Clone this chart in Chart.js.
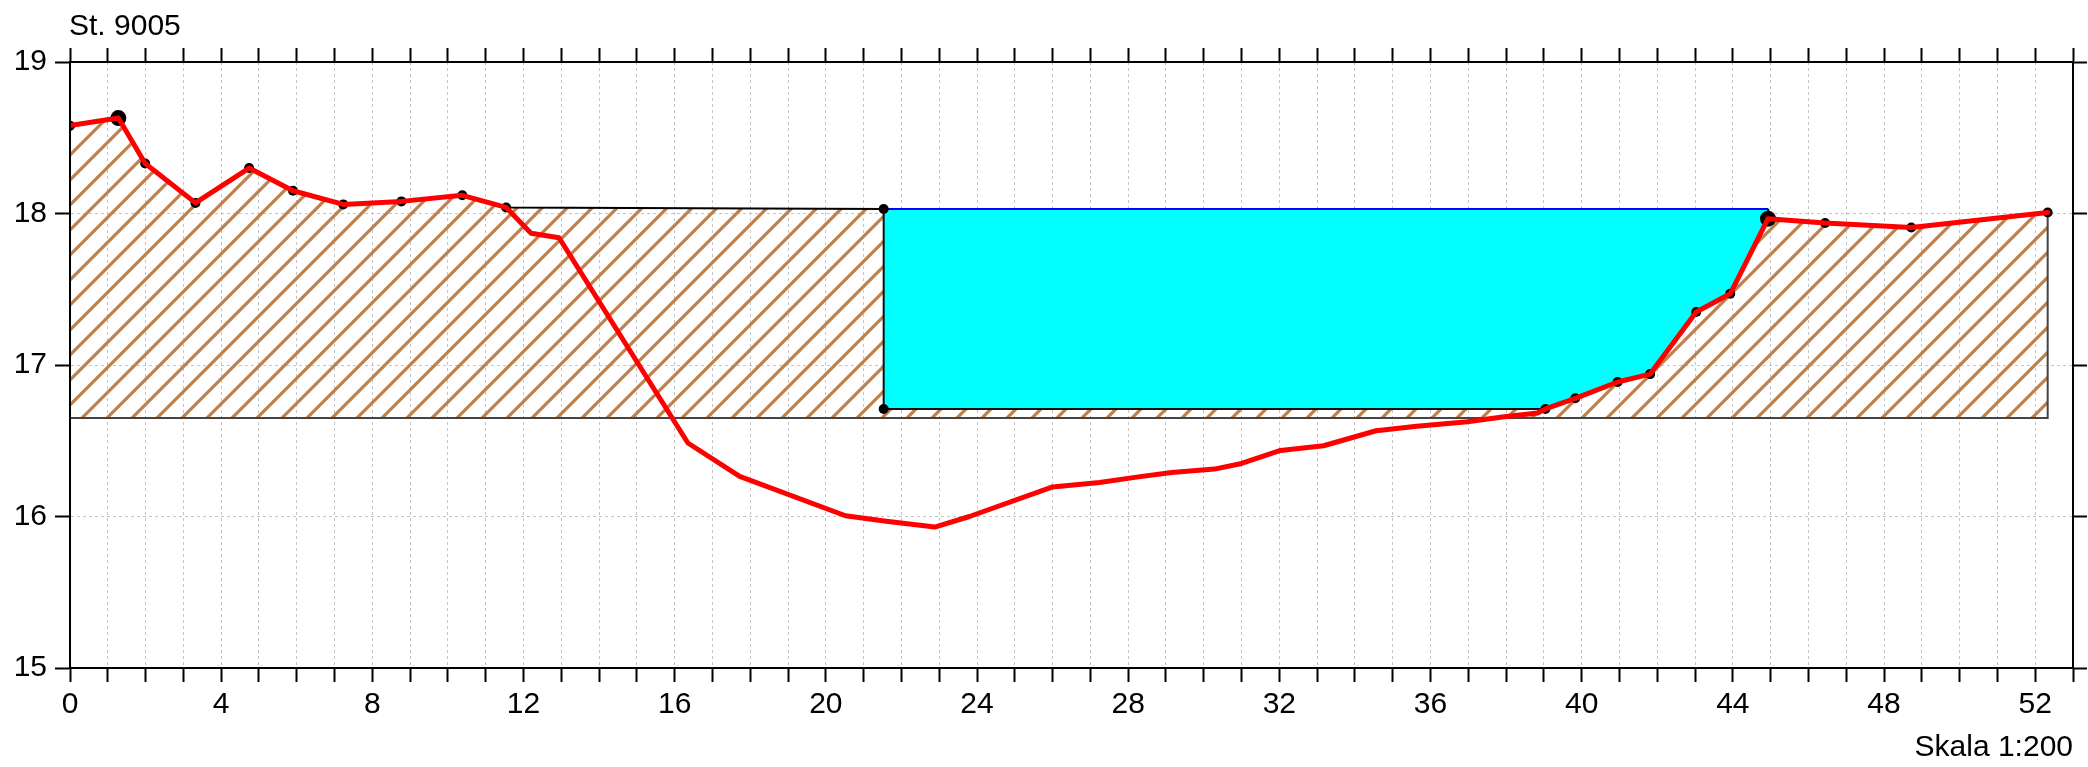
<!DOCTYPE html>
<html>
<head>
<meta charset="utf-8">
<script src="https://cdn.jsdelivr.net/npm/chart.js@4/dist/chart.umd.min.js"></script>
<style>
html,body{margin:0;padding:0;background:#fff;}
#wrap{width:2088px;height:767px;position:relative;}
</style>
</head>
<body>
<div id="wrap"><canvas id="c"></canvas></div>
<script>
// ---- data ----
const stationTitle = 'St. 9005';
const scaleLabel = 'Skala 1:200';
const xTickLabelEvery = 4;
const xMin = 0, xMax = 53;
const yMin = 15, yMax = 19;

// terrain profile (red line)
const groundX = [0, 1.28, 1.99, 3.32, 4.74, 5.90, 7.23, 8.77, 10.38, 11.54, 12.20, 12.94, 16.35, 17.72, 20.52, 21.60, 22.88, 23.80, 26.00, 27.24, 28.22, 29.15, 30.28, 31.00, 32.03, 33.17, 34.56, 35.64, 36.98, 37.90, 38.83, 39.04, 39.83, 40.95, 41.81, 43.03, 43.93, 44.93, 46.44, 48.72, 52.33];
const groundY = [18.58, 18.63, 18.33, 18.07, 18.30, 18.15, 18.06, 18.08, 18.12, 18.04, 17.87, 17.84, 16.485, 16.265, 16.005, 15.968, 15.93, 16.00, 16.195, 16.225, 16.26, 16.29, 16.313, 16.35, 16.436, 16.467, 16.566, 16.595, 16.626, 16.657, 16.683, 16.71, 16.78, 16.888, 16.94, 17.35, 17.47, 17.966, 17.937, 17.908, 18.007];

// measured points (small black dots)
const pointX = [0, 1.99, 3.32, 4.74, 5.90, 7.23, 8.77, 10.38, 11.54, 21.53, 21.53, 39.04, 39.83, 40.95, 41.81, 43.03, 43.93, 46.44, 48.72, 52.33];
const pointY = [18.58, 18.33, 18.07, 18.30, 18.15, 18.06, 18.08, 18.12, 18.04, 18.03, 16.71, 16.71, 16.78, 16.888, 16.94, 17.35, 17.47, 17.937, 17.908, 18.007];

// fixed points (large black dots)
const fixX = [1.28, 44.93];
const fixY = [18.63, 17.966];

// hatched layer: top edge, bottom level, right end
const layerTopX = [0, 1.28, 1.99, 3.32, 4.74, 5.90, 7.23, 8.77, 10.38, 11.54, 21.53, 44.93, 46.44, 48.72, 52.33];
const layerTopY = [18.58, 18.63, 18.33, 18.07, 18.30, 18.15, 18.06, 18.08, 18.12, 18.04, 18.03, 17.966, 17.937, 17.908, 18.007];
const layerBottom = 16.65;
const layerEndX = 52.33;
const layerEndTop = 18.007;

// channel (cyan area) outline
const channelX = [21.53, 44.94, 44.93, 43.93, 43.03, 41.81, 40.95, 39.83, 39.04, 21.53, 21.53];
const channelY = [18.03, 18.03, 17.966, 17.47, 17.35, 16.94, 16.888, 16.78, 16.71, 16.71, 18.03];

// ---- helpers ----
const zip = (xs, ys) => xs.map((x, i) => ({x: x, y: ys[i]}));

function makeHatch() {
  const s = 25;
  const c = document.createElement('canvas');
  c.width = s; c.height = s;
  const g = c.getContext('2d');
  g.strokeStyle = '#c0804c';
  g.lineWidth = 3.2;
  g.beginPath();
  g.moveTo(-3, s + 3); g.lineTo(s + 3, -3);
  g.moveTo(-6, 6); g.lineTo(6, -6);
  g.moveTo(s - 6, s + 6); g.lineTo(s + 6, s - 6);
  g.stroke();
  return g.createPattern(c, 'repeat');
}

const FAMILY = "'Liberation Sans', Arial, sans-serif";
const FONT = {family: FAMILY, size: 30};
Chart.defaults.color = '#000';
Chart.defaults.font = FONT;

const framePlugin = {
  id: 'frame',
  afterDatasetsDraw(chart) {
    const a = chart.chartArea, ctx = chart.ctx;
    ctx.save();
    ctx.strokeStyle = '#000';
    ctx.lineWidth = 2;
    ctx.strokeRect(Math.round(a.left), Math.round(a.top), Math.round(a.right) - Math.round(a.left), Math.round(a.bottom) - Math.round(a.top));
    ctx.restore();
  },
  afterDraw(chart) {
    const a = chart.chartArea, ctx = chart.ctx;
    ctx.save();
    ctx.fillStyle = '#000';
    ctx.font = '30px ' + FAMILY;
    ctx.textBaseline = 'alphabetic';
    ctx.textAlign = 'left';
    ctx.fillText(stationTitle, a.left - 1, 35);
    ctx.textAlign = 'right';
    ctx.fillText(scaleLabel, a.right, 756);
    ctx.restore();
  }
};

const gridDash = [3, 3];

new Chart(document.getElementById('c'), {
  type: 'scatter',
  data: {
    datasets: [
      { // terrain line
        data: zip(groundX, groundY), showLine: true, borderColor: '#ff0000', borderWidth: 5,
        pointRadius: 0, fill: false, xAxisID: 'x', yAxisID: 'y', tension: 0,
        borderJoinStyle: 'round', borderCapStyle: 'round'
      },
      { // fixed points
        data: zip(fixX, fixY), showLine: false, pointRadius: 8, pointBackgroundColor: '#000',
        pointBorderWidth: 0, xAxisID: 'x', yAxisID: 'y'
      },
      { // measured points
        data: zip(pointX, pointY), showLine: false, pointRadius: 5, pointBackgroundColor: '#000',
        pointBorderWidth: 0, xAxisID: 'x', yAxisID: 'y'
      },
      { // channel
        data: zip(channelX, channelY), showLine: true, fill: 'shape', backgroundColor: '#00ffff',
        borderColor: '#000', borderWidth: 2, pointRadius: 0, xAxisID: 'x', yAxisID: 'y', tension: 0,
        segment: { borderColor: ctx => ctx.p0DataIndex === 0 ? '#0000ff' : '#111' }
      },
      { // layer outline bottom/right
        data: zip([xMin, layerEndX, layerEndX], [layerBottom, layerBottom, layerEndTop]), showLine: true,
        borderColor: '#444', borderWidth: 2, pointRadius: 0, fill: false, xAxisID: 'x', yAxisID: 'y'
      },
      { // hatched layer
        data: zip(layerTopX, layerTopY), showLine: true, fill: {value: layerBottom},
        backgroundColor: makeHatch(), borderColor: '#000', borderWidth: 2, pointRadius: 0,
        xAxisID: 'x', yAxisID: 'y', tension: 0
      }
    ]
  },
  options: {
    responsive: true,
    maintainAspectRatio: false,
    animation: false,
    devicePixelRatio: 1,
    layout: {padding: 0},
    plugins: {legend: {display: false}, tooltip: {enabled: false}, title: {display: false}},
    events: [],
    scales: {
      x: {
        type: 'linear', position: 'bottom', min: xMin, max: xMax,
        ticks: {stepSize: 1, autoSkip: false, maxRotation: 0, padding: 5, font: FONT,
          callback: v => (v % xTickLabelEvery === 0 ? String(v) : '')},
        grid: {color: '#c4c4c4', lineWidth: 1, tickLength: 14, tickColor: '#000', tickWidth: 2, tickBorderDash: []},
        border: {display: true, color: '#000', width: 2, dash: gridDash},
        afterFit: s => { s.height = 99; }
      },
      x2: {
        type: 'linear', position: 'top', min: xMin, max: xMax,
        ticks: {display: false, stepSize: 1, autoSkip: false},
        grid: {drawOnChartArea: false, tickLength: 14, tickColor: '#000', tickWidth: 2, color: '#000'},
        border: {display: true, color: '#000', width: 2},
        afterFit: s => { s.height = 62; }
      },
      y: {
        type: 'linear', position: 'left', min: yMin, max: yMax,
        ticks: {stepSize: 1, padding: 8, font: FONT},
        grid: {color: '#c4c4c4', lineWidth: 1, tickLength: 15, tickColor: '#000', tickWidth: 2, tickBorderDash: []},
        border: {display: true, color: '#000', width: 2, dash: gridDash},
        afterFit: s => { s.width = 70; }
      },
      y2: {
        type: 'linear', position: 'right', min: yMin, max: yMax,
        ticks: {display: false, stepSize: 1},
        grid: {drawOnChartArea: false, tickLength: 14, tickColor: '#000', tickWidth: 2, color: '#000'},
        border: {display: true, color: '#000', width: 2},
        afterFit: s => { s.width = 15; }
      }
    }
  },
  plugins: [framePlugin]
});
</script>
</body>
</html>
